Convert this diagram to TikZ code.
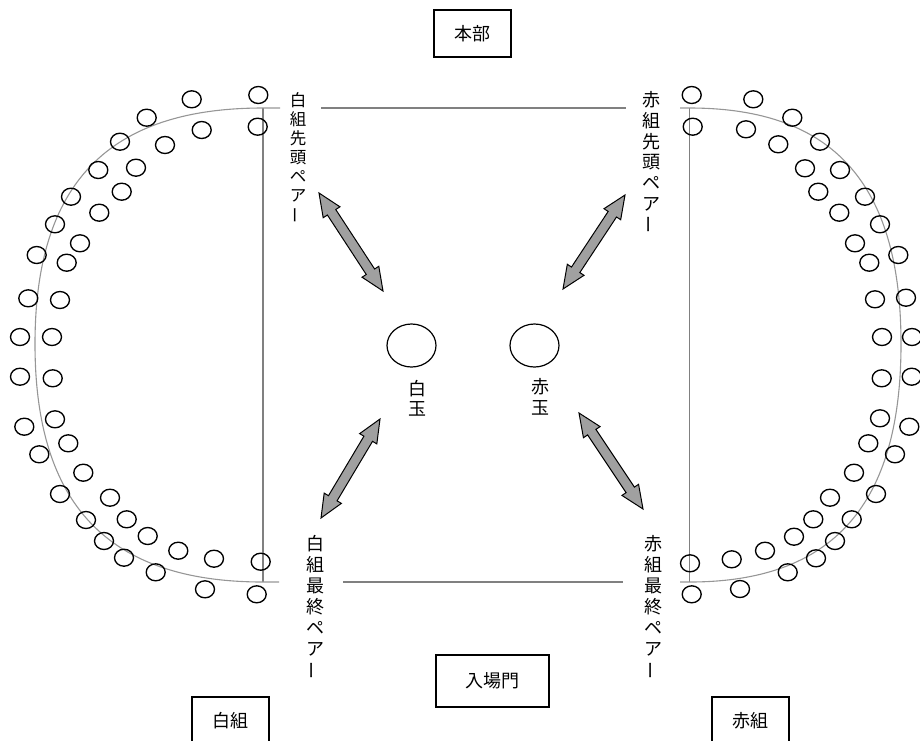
\documentclass[tikz,border=0pt]{standalone}
\usepackage{fontspec}
\usepackage{graphicx}
\newfontfamily\jp{Noto Sans CJK JP}
\usetikzlibrary{calc}
\definecolor{linegray}{RGB}{128,128,128}
\definecolor{arcgray}{RGB}{150,150,150}
\definecolor{arrowgray}{RGB}{160,160,160}
\newcommand\vbar{\rotatebox[origin=c]{90}{ー}}
\tikzset{
  person/.style={draw=black, line width=1.35pt},
  fieldline/.style={draw=linegray, line width=1.3pt},
  vline/.style={draw=linegray, line width=1.6pt},
  arcline/.style={draw=arcgray, line width=1.1pt},
  labelbox/.style={draw=black, line width=1.4pt, inner sep=0pt, font=\jp\fontsize{18}{18}\selectfont},
  ball/.style={draw=black, line width=1.2pt},
  vch/.style={inner sep=0pt, font=\jp\fontsize{18}{18}\selectfont},
  vchs/.style={inner sep=0pt, font=\jp\fontsize{16.5}{16.5}\selectfont},
  blockarrow/.style={draw=black, fill=arrowgray, line width=1pt, line join=miter}
}
\newcommand\dblarrow[2]{%
  \coordinate (h1) at ($(#1)!23pt!(#2)$);
  \coordinate (h2) at ($(#2)!23pt!(#1)$);
  \draw[blockarrow] (#1) -- ($(h1)!10pt!90:(#2)$) -- ($(h1)!5pt!90:(#2)$)
    -- ($(h2)!5pt!-90:(#1)$) -- ($(h2)!10pt!-90:(#1)$) -- (#2)
    -- ($(h2)!10pt!90:(#1)$) -- ($(h2)!5pt!90:(#1)$)
    -- ($(h1)!5pt!-90:(#2)$) -- ($(h1)!10pt!-90:(#2)$) -- cycle;
}
\begin{document}
\begin{tikzpicture}[x=1pt,y=-1pt]
\useasboundingbox (0,0) rectangle (920,740);
\clip (0,0) rectangle (920,740);

% field lines
\coordinate (tlA) at (321,108);
\coordinate (tlB) at (626,108);
\coordinate (blA) at (343,582);
\coordinate (blB) at (623,582);
\draw[fieldline] (tlA) -- (tlB);
\draw[fieldline] (blA) -- (blB);
\coordinate (lvT) at (263,108);
\coordinate (lvB) at (263,582);
\coordinate (rvT) at (689.5,108);
\coordinate (rvB) at (689.5,582);
\draw[vline] (lvT) -- (lvB);
\draw[vline] (rvT) -- (rvB);

% arcs
\draw[arcline] (280,108) -- (263,108) .. controls (108,108) and (35,183.5) .. (35,344)
   .. controls (35,504.5) and (108,582) .. (263,582) -- (279,582);
\draw[arcline] (680,108) -- (689.5,108) .. controls (833.3,108) and (901,183.5) .. (901,344)
   .. controls (901,504.5) and (833.3,582) .. (689.5,582) -- (680,582);

% white team people
\foreach \px/\py in {191.7/99.3, 258.3/95, 146.7/117.7, 201.7/130, 257.7/126.7,
  120/141.7, 165/145, 98.3/170, 136/167.7, 121.7/191.7, 71/196.7, 99.3/212.7,
  55/224.3, 80/243.3, 36.7/255, 66.7/262.7, 28.3/298.3, 60/300, 20/337, 52/337,
  20/376.7, 52.7/378.3, 24.3/426.7, 55/419.3, 68.3/443.3, 39.3/454.3, 83.3/472.7,
  60/494, 110/497.7, 86/520, 126.7/519.3, 104/541, 147.7/536, 124/557.7,
  178.3/550.7, 214/558.7, 155.7/572.3, 260.7/561.7, 205/589.3, 256.7/594.3}
  \draw[person] (\px,\py) ellipse [x radius=9.5, y radius=8.5];

% red team people
\foreach \px/\py in {691.7/95, 692.7/126.7, 753.3/99.3, 746/129.3, 792.3/117.7,
  778.3/144.3, 820/141.7, 805/168.3, 840/170, 818.3/191.7, 865/196.7, 839.3/212.7,
  880/224.3, 855/243.3, 898.3/255, 869.3/262.7, 875/299.3, 906/297.7, 882/337, 912/337,
  881.7/378.3, 911.7/376.7, 880/418.3, 909.3/426.7, 868.3/443.3, 895/454.3, 854/472.7,
  876/494, 830/497.7, 851.7/519.3, 813.3/519.3, 835/541, 794/536.7, 816/558.3,
  765/550.7, 731.7/559.3, 787.7/572.3, 690/563.3, 740/589, 691.7/594.3}
  \draw[person] (\px,\py) ellipse [x radius=9.5, y radius=8.5];

% balls
\draw[ball] (411.5,345.5) ellipse [x radius=24.5, y radius=21.5];
\draw[ball] (534.5,345.5) ellipse [x radius=24.5, y radius=21.5];
\node[vch] (sh1) at (417.5,389) {白};
\node[vch] (sh2) at (417.5,408.5) {玉};
\node[vch] (ak1) at (540,387) {赤};
\node[vch] (ak2) at (540,407.5) {玉};

% boxes
\node[labelbox, minimum width=77pt, minimum height=47pt] (honbu) at (472.5,33.5) {本部};
\node[labelbox, minimum width=113pt, minimum height=52pt] (gate) at (492.5,681) {入場門};
\node[labelbox, minimum width=77pt, minimum height=47pt] (white) at (230.5,720.5) {白組};
\node[labelbox, minimum width=77pt, minimum height=47pt] (red) at (750.5,720.5) {赤組};

% vertical labels
\foreach \c [count=\i from 0] in {白,組,先,頭,ペ,ア,\vbar}
  \node[vchs] (wf\i) at (298,100.5+19.1*\i) {\c};
\foreach \c [count=\i from 0] in {赤,組,先,頭,ペ,ア,\vbar}
  \node[vch] (rf\i) at (651.5,99.5+20.9*\i) {\c};
\foreach \c [count=\i from 0] in {白,組,最,終,ペ,ア,\vbar}
  \node[vch] (wl\i) at (315,543.5+21.1*\i) {\c};
\foreach \c [count=\i from 0] in {赤,組,最,終,ペ,ア,\vbar}
  \node[vch] (rl\i) at (653.5,543.5+21.1*\i) {\c};

% arrows
\coordinate (ulA) at (319,193);
\coordinate (ulB) at (383,291);
\coordinate (urA) at (625,195);
\coordinate (urB) at (563,289);
\coordinate (llA) at (380,419);
\coordinate (llB) at (321,518);
\coordinate (lrA) at (579,413);
\coordinate (lrB) at (643,509);
\dblarrow{ulA}{ulB}
\dblarrow{urA}{urB}
\dblarrow{llA}{llB}
\dblarrow{lrA}{lrB}
\end{tikzpicture}
\end{document}
